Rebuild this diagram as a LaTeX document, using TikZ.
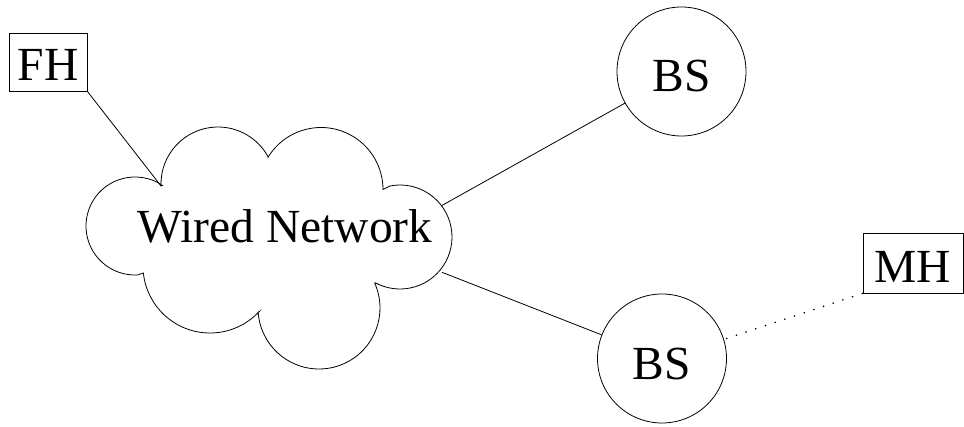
\documentclass[tikz,border=0pt]{standalone}
\usepackage{fontspec}
\setmainfont{Liberation Serif}
\begin{document}
\begin{tikzpicture}[x=1pt,y=1pt,line width=0.8pt,
  big/.style={font=\fontsize{47.5}{57}\selectfont},
  hostbox/.style={big,draw,inner sep=0pt,align=center},
  station/.style={big,draw,circle,inner sep=0pt,minimum size=129pt,text height=45pt},
  wire/.style={draw},
  radio/.style={draw,line cap=round,line width=1.8pt,dash pattern=on 0pt off 10.2pt}]
\useasboundingbox (0,0) rectangle (964,426);
% cloud centres
\coordinate (c1) at (218,242);
\coordinate (c2) at (321,236.5);
\coordinate (c3) at (400,189);
\coordinate (c4) at (319,118);
\coordinate (c5) at (210,160);
\coordinate (c6) at (135,200);
\draw ([shift={(182:57)}]c1) arc[start angle=182,end angle=28.4,radius=57]
  -- ([shift={(148.5:62)}]c2) arc[start angle=148.5,end angle=0,radius=62]
  -- ([shift={(101:52)}]c3) arc[start angle=101,end angle=-118.5,radius=52]
  -- ([shift={(24:61)}]c4) arc[start angle=24,end angle=-176,radius=61]
  -- ([shift={(-43:67)}]c5) arc[start angle=-43,end angle=-174,radius=67]
  -- ([shift={(-87:49)}]c6) arc[start angle=-87,end angle=-304,radius=49]
  -- cycle;
\coordinate (notch) at ([shift={(182:57)}]c1);
\coordinate (outA) at ([shift={(37:52)}]c3);
\coordinate (outB) at ([shift={(-40:55)}]c3);
\node[big,anchor=base] (wn) at (285,183) {Wired Network};
\node[hostbox,text height=48pt,text depth=10pt,text width=78pt,anchor=base] (fh) at (48,345) {FH};
\node[hostbox,text height=49.7pt,text depth=10.3pt,text width=100pt,anchor=base] (mh) at (913,143.3) {MH};
\node[station,text depth=4.6pt] (bs1) at (681.5,354.5) {BS};
\node[station,text depth=3.4pt] (bs2) at (662,67.5) {BS};
\draw[wire] (fh.south east) -- (notch);
\draw[wire] (outA) -- (bs1);
\draw[wire] (outB) -- (bs2);
\draw[radio] ([shift={(3,0)}]bs2.18) -- (mh.south west);
\end{tikzpicture}
\end{document}
